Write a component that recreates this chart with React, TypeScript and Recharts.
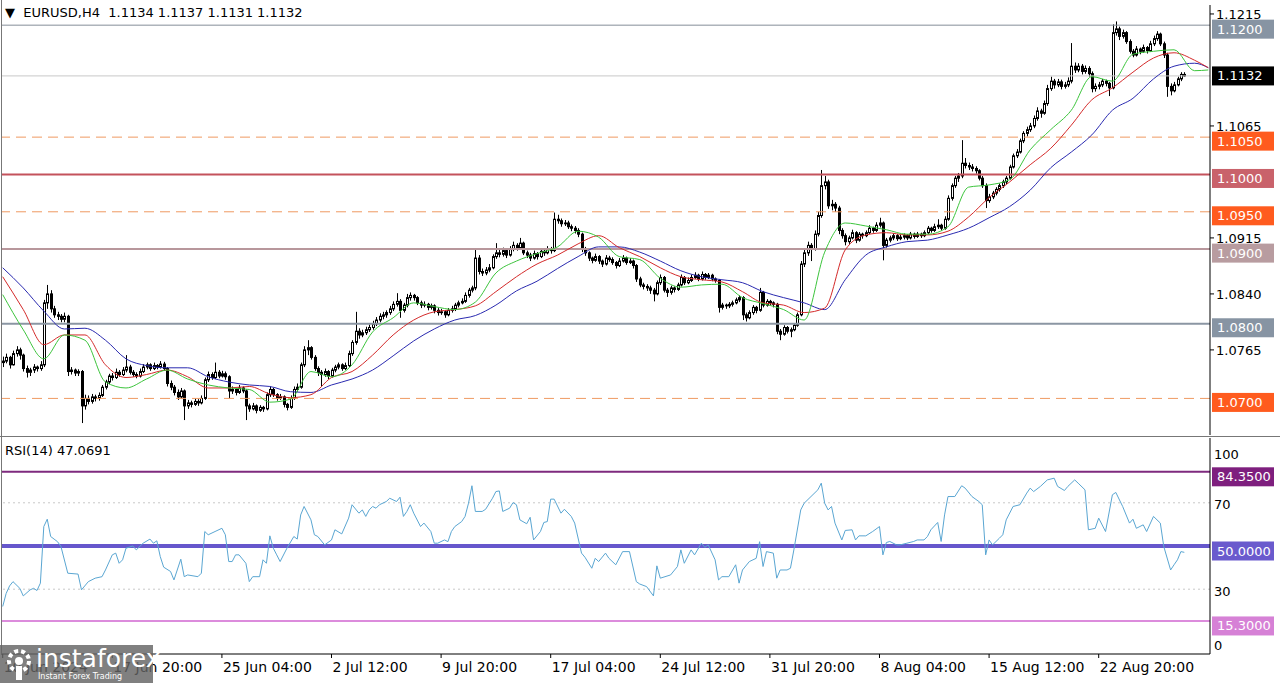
import React from 'react';
import { ComposedChart, Bar, Line, XAxis, YAxis, ReferenceLine } from 'recharts';

// EURUSD H4 candles, in points above 1.0000: [open, high, low, close]
const wk1 = [
  [748, 756, 742, 750], [750, 760, 747, 755], [755, 757, 740, 745], [745, 764, 744, 760], [760, 770, 756, 765],
  [765, 768, 752, 758], [758, 760, 736, 740], [740, 744, 728, 735], [735, 741, 730, 738], [738, 746, 734, 742],
  [742, 744, 736, 740], [740, 750, 737, 745], [745, 832, 742, 828], [828, 852, 820, 840], [840, 845, 815, 820],
  [820, 824, 808, 812], [812, 816, 805, 810], [810, 813, 802, 806], [806, 815, 802, 810], [810, 812, 730, 736],
  [736, 742, 732, 738], [738, 740, 730, 734], [734, 739, 730, 736], [736, 738, 667, 690], [690, 705, 685, 700],
  [700, 704, 692, 696], [696, 706, 693, 702], [702, 705, 696, 700], [700, 708, 697, 704], [704, 718, 702, 715],
];
const wk2 = [
  [715, 725, 712, 722], [722, 733, 719, 730], [730, 734, 724, 728], [728, 740, 726, 735], [735, 738, 729, 732],
  [732, 742, 730, 738], [738, 758, 735, 742], [742, 745, 732, 735], [735, 738, 729, 732], [732, 735, 727, 730],
  [730, 740, 728, 736], [736, 746, 734, 742], [742, 748, 739, 745], [745, 747, 737, 740], [740, 748, 738, 744],
  [744, 746, 739, 742], [742, 750, 740, 746], [746, 749, 737, 740], [740, 742, 716, 720], [720, 724, 711, 715],
  [715, 718, 704, 708], [708, 712, 698, 702], [702, 714, 700, 710], [710, 712, 671, 690], [690, 698, 686, 694],
  [694, 697, 688, 692], [692, 700, 690, 696], [696, 699, 690, 694], [694, 704, 692, 700], [700, 728, 698, 725],
];
const wk3 = [
  [725, 736, 722, 732], [732, 735, 725, 728], [728, 748, 726, 735], [735, 738, 727, 730], [730, 737, 728, 733],
  [733, 736, 725, 729], [729, 731, 700, 710], [710, 716, 706, 712], [712, 714, 704, 708], [708, 718, 706, 714],
  [714, 716, 707, 710], [710, 712, 671, 690], [690, 693, 682, 686], [686, 694, 684, 690], [690, 692, 680, 684],
  [684, 691, 682, 688], [688, 690, 682, 686], [686, 708, 684, 705], [705, 716, 702, 712], [712, 714, 702, 705],
  [705, 707, 697, 700], [700, 706, 698, 702], [702, 704, 688, 692], [692, 694, 684, 688], [688, 704, 686, 700],
  [700, 716, 698, 712], [712, 720, 709, 715], [715, 748, 713, 745], [745, 770, 742, 765], [765, 778, 758, 768],
];
const wk4 = [
  [768, 770, 752, 755], [755, 758, 737, 740], [740, 743, 730, 735], [735, 738, 716, 732], [732, 740, 729, 736],
  [736, 738, 726, 730], [730, 741, 728, 738], [738, 745, 735, 742], [742, 748, 739, 745], [745, 747, 737, 740],
  [740, 748, 738, 744], [744, 764, 742, 760], [760, 778, 757, 775], [775, 816, 772, 790], [790, 794, 780, 785],
  [785, 792, 782, 788], [788, 796, 785, 792], [792, 799, 789, 795], [795, 804, 792, 800], [800, 809, 797, 805],
  [805, 814, 802, 810], [810, 816, 806, 812], [812, 818, 808, 815], [815, 824, 812, 820], [820, 830, 817, 826],
  [826, 841, 823, 830], [830, 833, 808, 818], [818, 828, 815, 825], [825, 840, 822, 835], [835, 842, 831, 838],
];
const wk5 = [
  [838, 840, 831, 835], [835, 837, 825, 828], [828, 831, 821, 825], [825, 830, 822, 826], [826, 828, 818, 822],
  [822, 827, 819, 824], [824, 826, 814, 818], [818, 821, 811, 815], [815, 820, 812, 816], [816, 818, 808, 812],
  [812, 821, 810, 818], [818, 824, 815, 820], [820, 828, 817, 825], [825, 831, 822, 828], [828, 834, 826, 830],
  [830, 842, 828, 838], [838, 848, 835, 845], [845, 851, 842, 848], [848, 899, 845, 888], [888, 892, 866, 870],
  [870, 874, 864, 868], [868, 876, 865, 872], [872, 880, 869, 875], [875, 893, 873, 890], [890, 908, 887, 895],
  [895, 899, 889, 893], [893, 902, 890, 898], [898, 901, 888, 892], [892, 904, 890, 900], [900, 910, 897, 905],
];
const wk6 = [
  [905, 908, 898, 902], [902, 915, 899, 908], [908, 910, 892, 895], [895, 898, 888, 892], [892, 895, 884, 888],
  [888, 898, 886, 894], [894, 896, 886, 890], [890, 900, 888, 897], [897, 899, 891, 895], [895, 904, 893, 900],
  [900, 903, 894, 898], [898, 949, 896, 940], [940, 946, 934, 938], [938, 941, 930, 934], [934, 939, 931, 935],
  [935, 938, 927, 930], [930, 933, 924, 928], [928, 931, 921, 925], [925, 928, 916, 920], [920, 922, 896, 900],
  [900, 903, 891, 895], [895, 897, 884, 888], [888, 890, 881, 885], [885, 894, 883, 890], [890, 892, 880, 884],
  [884, 886, 876, 880], [880, 892, 878, 888], [888, 891, 883, 886], [886, 889, 879, 882], [882, 884, 874, 878],
];
const wk7 = [
  [878, 888, 876, 884], [884, 892, 882, 888], [888, 890, 879, 882], [882, 888, 880, 884], [884, 886, 874, 878],
  [878, 880, 856, 860], [860, 863, 849, 852], [852, 855, 846, 850], [850, 853, 844, 848], [848, 851, 840, 845],
  [845, 848, 830, 840], [840, 858, 838, 855], [855, 866, 852, 862], [862, 864, 842, 845], [845, 848, 836, 842],
  [842, 851, 839, 848], [848, 850, 842, 846], [846, 855, 844, 852], [852, 866, 850, 862], [862, 864, 852, 855],
  [855, 862, 853, 858], [858, 866, 856, 862], [862, 869, 860, 865], [865, 867, 857, 860], [860, 870, 858, 866],
  [866, 868, 859, 862], [862, 868, 860, 865], [865, 867, 857, 860], [860, 862, 855, 858], [858, 860, 815, 822],
];
const wk8 = [
  [822, 828, 819, 825], [825, 827, 820, 824], [824, 829, 821, 826], [826, 831, 823, 828], [828, 835, 826, 832],
  [832, 838, 829, 835], [835, 837, 805, 812], [812, 815, 803, 808], [808, 818, 806, 815], [815, 825, 812, 822],
  [822, 824, 814, 818], [818, 848, 816, 842], [842, 844, 822, 825], [825, 833, 823, 830], [830, 832, 825, 828],
  [828, 830, 822, 826], [826, 828, 786, 790], [790, 793, 778, 786], [786, 798, 784, 795], [795, 797, 787, 790],
  [790, 795, 782, 792], [792, 801, 790, 798], [798, 815, 796, 812], [812, 884, 810, 880], [880, 900, 876, 895],
  [895, 910, 891, 905], [905, 908, 884, 900], [900, 925, 898, 920], [920, 950, 917, 945], [945, 1006, 942, 985],
];
const wk9 = [
  [985, 998, 980, 990], [990, 993, 954, 958], [958, 966, 952, 960], [960, 963, 950, 955], [955, 958, 920, 925],
  [925, 928, 914, 918], [918, 921, 905, 910], [910, 918, 907, 915], [915, 926, 913, 922], [922, 924, 908, 912],
  [912, 923, 910, 920], [920, 922, 914, 918], [918, 925, 916, 922], [922, 932, 920, 928], [928, 930, 922, 925],
  [925, 936, 923, 932], [932, 942, 929, 935], [935, 937, 885, 905], [905, 915, 902, 912], [912, 918, 909, 915],
  [915, 921, 912, 918], [918, 920, 911, 914], [914, 919, 912, 916], [916, 921, 913, 918], [918, 920, 912, 915],
  [915, 923, 913, 920], [920, 922, 914, 917], [917, 923, 915, 920], [920, 922, 915, 918], [918, 925, 916, 922],
];
const wk10 = [
  [922, 931, 920, 928], [928, 930, 922, 925], [925, 934, 923, 930], [930, 940, 927, 932], [932, 934, 925, 928],
  [928, 944, 926, 940], [940, 972, 938, 968], [968, 988, 965, 985], [985, 998, 982, 995], [995, 1002, 990, 998],
  [998, 1046, 995, 1015], [1015, 1022, 1008, 1012], [1012, 1016, 1006, 1010], [1010, 1014, 1004, 1008], [1008, 1011, 1001, 1005],
  [1005, 1007, 992, 995], [995, 998, 982, 985], [985, 988, 955, 965], [965, 974, 962, 970], [970, 978, 967, 975],
  [975, 983, 972, 980], [980, 988, 977, 985], [985, 993, 982, 990], [990, 998, 987, 995], [995, 1013, 993, 1010],
  [1010, 1028, 1008, 1025], [1025, 1034, 1022, 1030], [1030, 1048, 1028, 1045], [1045, 1058, 1042, 1055], [1055, 1064, 1051, 1060],
];
const wk11 = [
  [1060, 1069, 1057, 1065], [1065, 1079, 1062, 1075], [1075, 1090, 1072, 1085], [1085, 1088, 1076, 1082], [1082, 1099, 1080, 1095],
  [1095, 1120, 1092, 1115], [1115, 1131, 1112, 1125], [1125, 1128, 1115, 1120], [1120, 1128, 1117, 1124], [1124, 1127, 1114, 1118],
  [1118, 1124, 1115, 1120], [1120, 1130, 1117, 1125], [1125, 1176, 1122, 1145], [1145, 1150, 1136, 1140], [1140, 1149, 1137, 1145],
  [1145, 1148, 1134, 1138], [1138, 1146, 1135, 1142], [1142, 1145, 1131, 1135], [1135, 1138, 1110, 1115], [1115, 1122, 1111, 1118],
  [1118, 1124, 1114, 1120], [1120, 1128, 1117, 1125], [1125, 1127, 1118, 1122], [1122, 1124, 1105, 1116], [1116, 1201, 1114, 1190],
  [1190, 1205, 1186, 1195], [1195, 1198, 1180, 1185], [1185, 1194, 1182, 1190], [1190, 1192, 1175, 1178], [1178, 1181, 1162, 1165],
];
const wk12 = [
  [1165, 1168, 1157, 1160], [1160, 1172, 1158, 1168], [1168, 1170, 1161, 1165], [1165, 1174, 1163, 1170], [1170, 1172, 1162, 1166],
  [1166, 1179, 1164, 1175], [1175, 1186, 1172, 1182], [1182, 1192, 1179, 1188], [1188, 1190, 1172, 1175], [1175, 1178, 1156, 1160],
  [1160, 1163, 1104, 1118], [1118, 1122, 1106, 1112], [1112, 1124, 1110, 1120], [1120, 1131, 1118, 1128], [1128, 1137, 1125, 1134],
  [1134, 1137, 1131, 1132],
];

// Alligator lines read every 6 bars (points above 1.0000)
const maBars = [0, 6, 12, 18, 24, 30, 36, 42, 48, 54, 60, 66, 72, 78, 84, 90, 96, 102, 108, 114,
  120, 126, 132, 138, 144, 150, 156, 162, 168, 174, 180, 186, 192, 198, 204, 210, 216, 222, 228, 234,
  240, 246, 252, 258, 264, 270, 276, 282, 288, 294, 300, 306, 312, 318, 324, 330, 336, 342, 348, 352];
const jaw = [875, 848, 817, 793, 794, 778, 753, 744, 741, 741, 729, 722, 718, 716, 709, 708, 718, 726, 738, 757,
  777, 793, 805, 811, 825, 844, 857, 874, 890, 903, 903, 896, 884, 871, 863, 859, 855, 843, 835, 828,
  819, 859, 892, 903, 910, 912, 919, 928, 942, 957, 979, 1009, 1030, 1053, 1086, 1102, 1128, 1145, 1149, 1143];
const teeth = [863, 819, 772, 785, 785, 745, 728, 732, 738, 729, 714, 714, 716, 706, 701, 705, 728, 736, 758, 785,
  805, 816, 819, 824, 843, 863, 880, 892, 907, 918, 902, 890, 875, 863, 859, 856, 843, 828, 825, 815,
  821, 899, 919, 922, 919, 919, 924, 943, 969, 990, 1013, 1035, 1066, 1100, 1116, 1137, 1156, 1163, 1153, 1143];
const lips = [839, 792, 753, 785, 778, 722, 714, 726, 738, 726, 718, 714, 712, 695, 699, 736, 729, 745, 789, 808,
  828, 823, 819, 829, 868, 884, 894, 903, 924, 916, 890, 886, 861, 849, 852, 853, 835, 827, 819, 805,
  896, 935, 931, 926, 920, 920, 930, 983, 986, 993, 1033, 1060, 1086, 1131, 1125, 1161, 1165, 1167, 1139, 1140];

// RSI(14): [bar, value]
const rsiPts = [
  [0, 22], [1, 28], [2, 31.5], [3, 33.5], [5, 30.4], [6, 26.9], [8, 29.7], [9, 30.4], [10, 29.4], [11, 32.8],
  [12, 59], [13, 62.4], [14, 54.4], [15, 53.2], [16, 52], [17, 49.8], [19, 37.4], [22, 37], [23, 29.7], [25, 33.5],
  [27, 35.1], [29, 35.8], [30, 38.9], [32, 45.9], [33, 46.7], [34, 42], [35, 43.6], [36, 49], [38, 50], [39, 48.2],
  [41, 51.3], [43, 53.2], [44, 51.3], [45, 52.4], [46, 45.1], [47, 40.2], [49, 38.2], [50, 34.3], [52, 43.9], [53, 35.8],
  [54, 36.6], [57, 35.8], [58, 37.4], [59, 56.7], [60, 55.2], [62, 56.7], [64, 58.2], [65, 55.2], [66, 42.8], [67, 42.8],
  [68, 45.9], [69, 45.9], [71, 42], [72, 33.5], [73, 35.8], [75, 35.8], [76, 43.6], [77, 42], [78, 54.7], [79, 49],
  [80, 45.9], [81, 42.8], [83, 49], [85, 54.4], [86, 53.2], [87, 64.4], [88, 68.3], [90, 62.1], [91, 55.2], [92, 54.4],
  [94, 50.5], [96, 52.8], [97, 57.5], [99, 55.6], [101, 62.9], [102, 69.1], [104, 65.2], [105, 66.7], [106, 63.7], [107, 66.7],
  [108, 68.3], [109, 67.5], [110, 69.1], [112, 70.6], [113, 72.1], [115, 70.6], [116, 72.6], [117, 63.7], [118, 66], [119, 69.1],
  [120, 65.2], [122, 59], [123, 60.6], [125, 56.7], [126, 51.3], [127, 51.3], [129, 52.8], [130, 52], [131, 56.7], [132, 59],
  [134, 61.3], [135, 63.7], [136, 69.8], [137, 77.9], [138, 66], [140, 66], [141, 67], [143, 72.1], [144, 75.2], [145, 75.5],
  [146, 66], [148, 67.5], [149, 70.1], [150, 69.1], [151, 62.1], [153, 60.3], [154, 63.3], [155, 52.8], [157, 56.7], [158, 60.9],
  [159, 61.3], [160, 71.7], [161, 71.7], [163, 65.2], [164, 67], [166, 63.7], [167, 60.6], [169, 46.7], [170, 44.8], [172, 39.7],
  [173, 44.3], [174, 42.8], [176, 46.7], [177, 44.3], [179, 41.3], [181, 47.4], [183, 47.4], [185, 33.5], [186, 32.4], [188, 31.2],
  [190, 26.9], [191, 40.8], [192, 35.1], [195, 36.6], [197, 40.5], [198, 48.2], [199, 42], [201, 48.2], [202, 45.9], [204, 51.3],
  [205, 49.4], [206, 50.5], [208, 43.6], [209, 34.3], [210, 35.8], [212, 35.8], [214, 41.3], [215, 32.8], [216, 38.9], [218, 42.8],
  [220, 44.3], [221, 52], [222, 40.5], [223, 47.4], [225, 46.7], [226, 35.1], [227, 38.9], [229, 38.9], [230, 39.7], [231, 48.2],
  [233, 66.7], [234, 69.8], [236, 72.9], [238, 76], [239, 79.1], [240, 69.8], [241, 66.7], [242, 68.3], [243, 60.6], [245, 52.8],
  [246, 57.2], [248, 57.5], [249, 52.8], [250, 54.7], [252, 54.7], [254, 56.7], [256, 59], [257, 45.9], [258, 51.6], [259, 52.1],
  [261, 50.5], [262, 50.5], [264, 51.3], [266, 52.1], [267, 52.8], [269, 52.8], [270, 54.4], [271, 57.5], [273, 60.9], [274, 52.1],
  [275, 64.4], [276, 72.9], [278, 72.9], [280, 77.9], [281, 76.8], [283, 72.9], [285, 70.6], [286, 69.1], [287, 45.9], [288, 52.8],
  [289, 50.5], [291, 53.6], [292, 55.2], [293, 62.1], [295, 68.3], [297, 69.1], [299, 74.5], [300, 76.8], [301, 75.2], [303, 77.6],
  [305, 80.6], [307, 81.4], [308, 77.6], [310, 75.7], [311, 77.6], [313, 80.6], [314, 79.1], [316, 76], [317, 57.5], [319, 58.2],
  [320, 62.9], [322, 56.7], [324, 73.7], [325, 74.8], [327, 68.3], [329, 60.6], [330, 62.4], [331, 58.2], [333, 59.8], [334, 56.7],
  [336, 63.7], [338, 60.6], [339, 49.8], [341, 38.9], [342, 41.3], [343, 43.6], [344, 47.4], [345, 47.0691],
];

const priceTicks = [1.1215, 1.1065, 1.0915, 1.084, 1.0765];
const levels = [1.12, 1.105, 1.1, 1.095, 1.09, 1.08, 1.07];
const rsiLevels = [84.35, 50, 15.3];
const rsiGrid = [70, 30];
const rsiTicks = [0, 30, 70, 100];
const labelBars = [0, 32, 64, 96, 128, 160, 192, 224, 256, 288, 320];
const timeLabels = ['10 Jun 2024', '17 Jun 20:00', '25 Jun 04:00', '2 Jul 12:00', '9 Jul 20:00', '17 Jul 04:00',
  '24 Jul 12:00', '31 Jul 20:00', '8 Aug 04:00', '15 Aug 12:00', '22 Aug 20:00'];

// styles for the level lines, same order as levels
const levelStyle = [
  { stroke: '#858e98', dash: undefined, w: 1, bg: '#8794a3' },
  { stroke: '#ef9a62', dash: '10 6', w: 1, bg: '#ff5b1e' },
  { stroke: '#c4525c', dash: undefined, w: 2, bg: '#c9626b' },
  { stroke: '#ef9a62', dash: '10 6', w: 1, bg: '#ff5b1e' },
  { stroke: '#b8979c', dash: undefined, w: 2, bg: '#b89ca0' },
  { stroke: '#8b96a3', dash: undefined, w: 2, bg: '#8794a3' },
  { stroke: '#ef9a62', dash: '10 6', w: 1, bg: '#ff5b1e' },
];
const rsiLevelStyle = [
  { stroke: '#7e2a7e', w: 2, bg: '#7e1f7e' },
  { stroke: '#6657cc', w: 4, bg: '#6a5acd' },
  { stroke: '#dc8cdc', w: 2, bg: '#d681d6' },
];

const pt = (v: number) => 1 + v / 10000;
const candles = [...wk1, ...wk2, ...wk3, ...wk4, ...wk5, ...wk6, ...wk7, ...wk8, ...wk9, ...wk10, ...wk11, ...wk12];
const SLOTS = 353;
const rows: any[] = [];
for (let i = 0; i < SLOTS; i++) {
  const k = candles[i];
  rows.push(k ? { i, o: pt(k[0]), h: pt(k[1]), l: pt(k[2]), c: pt(k[3]), range: [pt(k[2]), pt(k[1])] } : { i });
}
maBars.forEach((b, j) => {
  rows[b].jaw = pt(jaw[j]);
  rows[b].teeth = pt(teeth[j]);
  rows[b].lips = pt(lips[j]);
});
rsiPts.forEach(([b, v]) => {
  rows[b].rsi = v;
});
const last = candles[candles.length - 1];
const lastClose = pt(last[3]);

function Candle(props: any) {
  const { x, y, width, height, payload } = props;
  if (!payload || payload.o == null) return <g />;
  const { o, h, l, c } = payload;
  const top = Math.min(y, y + height);
  const hgt = Math.abs(height);
  const cx = Math.round(x + width / 2) + 0.5;
  const py = (v: number) => top + (h === l ? 0 : ((h - v) / (h - l)) * hgt);
  const bTop = py(Math.max(o, c));
  const bBot = py(Math.min(o, c));
  const up = c >= o;
  return (
    <g>
      <line x1={cx} x2={cx} y1={top} y2={top + hgt} stroke="#000" strokeWidth={1} />
      <rect x={cx - 1} y={bTop} width={2} height={Math.max(bBot - bTop, 0.8)} fill={up ? '#fff' : '#000'} stroke="#000" strokeWidth={1} />
    </g>
  );
}

const boxLabel = (text: string, bg: string, dy: number) => (props: any) => {
  const vb = props.viewBox || {};
  const x = (vb.x || 0) + (vb.width || 0) + 2;
  const y = (vb.y || 0) + dy;
  return (
    <g>
      <rect x={x} y={y - 9.5} width={62} height={19} fill={bg} />
      <text x={x + 5} y={y} dominantBaseline="central" fill="#fff" fontSize={13}>{text}</text>
    </g>
  );
};

function TimeTick(props: any) {
  const { x, y, payload } = props;
  const k = labelBars.indexOf(payload.value);
  if (k < 0) return <g />;
  return (
    <g>
      <line x1={x} x2={x} y1={y - 4} y2={y} stroke="#000" />
      <text x={x + 1} y={y + 14} fontSize={14} fill="#000">{timeLabels[k]}</text>
    </g>
  );
}

function RsiTick(props: any) {
  const { x, y, payload } = props;
  const v = payload.value;
  const shift = v === 100 ? 7 : v === 0 ? -9 : 2;
  return (
    <text x={x} y={y + shift} dominantBaseline="central" fontSize={13} fill="#000">{v}</text>
  );
}

export default function App() {
  return (
    <div style={{ position: 'absolute', left: 0, top: 0, width: 1280, height: 683, background: '#fff', fontFamily: "'DejaVu Sans', sans-serif", overflow: 'hidden' }}>
      <div style={{ position: 'absolute', left: 0, top: 0 }}>
        <ComposedChart width={1280} height={440} data={rows} margin={{ top: 5, right: 0, bottom: 5, left: 1 }}>
          <XAxis dataKey="i" type="category" scale="band" hide />
          <YAxis
            orientation="right"
            width={70}
            domain={[pt(651), pt(1227)]}
            allowDataOverflow
            ticks={priceTicks}
            tickFormatter={(v: number) => v.toFixed(4)}
            tick={{ fontSize: 13, fill: '#000' }}
            tickSize={4}
            tickMargin={2}
            axisLine={{ stroke: '#000' }}
            tickLine={{ stroke: '#000' }}
          />
          <ReferenceLine y={lastClose} stroke="#c8c8c8" strokeWidth={1} label={boxLabel(lastClose.toFixed(4), '#000', 0)} />
          {levels.map((v, j) => (
            <ReferenceLine
              key={v}
              y={v}
              stroke={levelStyle[j].stroke}
              strokeWidth={levelStyle[j].w}
              strokeDasharray={levelStyle[j].dash}
              label={boxLabel(v.toFixed(4), levelStyle[j].bg, 4)}
            />
          ))}
          <Bar dataKey="range" isAnimationActive={false} shape={(p: any) => <Candle {...p} />} />
          <Line dataKey="jaw" stroke="#2a2ab0" strokeWidth={1} dot={false} connectNulls type="monotone" isAnimationActive={false} />
          <Line dataKey="teeth" stroke="#d42a2a" strokeWidth={1} dot={false} connectNulls type="monotone" isAnimationActive={false} />
          <Line dataKey="lips" stroke="#3cc43c" strokeWidth={1} dot={false} connectNulls type="monotone" isAnimationActive={false} />
        </ComposedChart>
      </div>

      <div style={{ position: 'absolute', left: 0, top: 438 }}>
        <ComposedChart width={1280} height={245} data={rows} margin={{ top: 0, right: 0, bottom: 0, left: 1 }}>
          <XAxis
            dataKey="i"
            type="category"
            scale="band"
            height={29}
            interval={0}
            tickLine={false}
            tickSize={4}
            tickMargin={0}
            axisLine={{ stroke: '#000' }}
            tick={(p: any) => <TimeTick {...p} />}
          />
          <YAxis
            orientation="right"
            width={70}
            domain={[0, 100]}
            ticks={rsiTicks}
            tickLine={false}
            tickSize={2}
            tickMargin={2}
            axisLine={{ stroke: '#000' }}
            tick={(p: any) => <RsiTick {...p} />}
          />
          {rsiGrid.map((v) => (
            <ReferenceLine key={v} y={v} stroke="#c8c8c8" strokeDasharray="2 3" />
          ))}
          {rsiLevels.map((v, j) => (
            <ReferenceLine
              key={v}
              y={v}
              stroke={rsiLevelStyle[j].stroke}
              strokeWidth={rsiLevelStyle[j].w}
              label={boxLabel(v.toFixed(4), rsiLevelStyle[j].bg, 5)}
            />
          ))}
          <Bar dataKey="none" isAnimationActive={false} />
          <Line dataKey="rsi" stroke="#5aa6d2" strokeWidth={1} dot={false} connectNulls type="linear" isAnimationActive={false} />
        </ComposedChart>
      </div>

      <div style={{ position: 'absolute', left: 0, top: 436, width: 1280, height: 1, background: '#777' }} />
      <div style={{ position: 'absolute', left: 1, top: 0, width: 1, height: 655, background: '#777' }} />

      <div style={{ position: 'absolute', left: 5, top: 5, fontSize: 13, lineHeight: '16px', whiteSpace: 'pre', color: '#000' }}>
        {'\u25BC  EURUSD,H4  1.1134 1.1137 1.1131 1.1132'}
      </div>
      <div style={{ position: 'absolute', left: 5, top: 443, fontSize: 13, lineHeight: '16px', whiteSpace: 'pre', color: '#000' }}>
        {'RSI(14) 47.0691'}
      </div>

      <div style={{ position: 'absolute', left: 0, top: 645, width: 153, height: 38, background: 'rgba(100,100,100,0.82)' }}>
        <svg width={34} height={36} style={{ position: 'absolute', left: 4, top: 1 }}>
          <circle cx={15} cy={15} r={10} fill="none" stroke="#fff" strokeWidth={4} strokeDasharray="4 3" />
          <circle cx={15} cy={15} r={4} fill="#fff" />
          <rect x={12} y={20} width={6} height={14} fill="#fff" />
        </svg>
        <div style={{ position: 'absolute', left: 36, top: 0, fontSize: 25, lineHeight: '28px', color: '#fff' }}>instaforex</div>
        <div style={{ position: 'absolute', left: 38, top: 27, fontSize: 8, lineHeight: '10px', color: '#fff' }}>Instant Forex Trading</div>
      </div>
    </div>
  );
}
